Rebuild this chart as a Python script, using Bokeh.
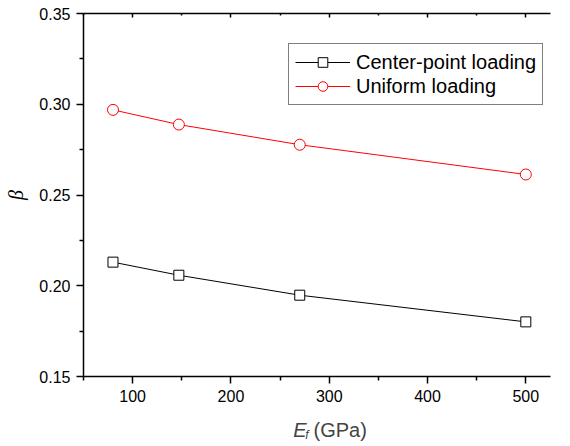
from bokeh.plotting import figure
from bokeh.models import (Range1d, LinearAxis, FixedTicker, Legend, LegendItem,
                          Label, CustomJSTickFormatter)
from bokeh.embed import file_html
from bokeh.resources import INLINE

# data
ef = [80, 147, 270, 500]
beta_center = [0.2130, 0.2058, 0.1948, 0.1801]
beta_uniform = [0.2969, 0.2888, 0.2777, 0.2613]
x_ticks = [100, 200, 300, 400, 500]
x_minor = [50, 150, 250, 350, 450, 550]
y_ticks = [0.15, 0.20, 0.25, 0.30, 0.35]
y_minor = [0.175, 0.225, 0.275, 0.325]

FONT = "Liberation Sans"

p = figure(width=570, height=446, output_backend="svg", toolbar_location=None,
           x_range=Range1d(50, 525.1), y_range=Range1d(0.15, 0.35),
           min_border_left=83, min_border_right=20, min_border_top=13,
           min_border_bottom=70)
p.outline_line_color = None
p.xgrid.visible = False
p.ygrid.visible = False
p.background_fill_color = "white"
p.border_fill_color = "white"

def style_axis(ax):
    ax.axis_line_color = "black"
    ax.axis_line_width = 1.5
    ax.major_tick_line_color = "black"
    ax.minor_tick_line_color = "black"
    ax.major_tick_line_width = 1.5
    ax.minor_tick_line_width = 1.5
    ax.major_tick_in = 0
    ax.major_tick_out = 7
    ax.minor_tick_in = 0
    ax.minor_tick_out = 4
    ax.major_label_text_font = FONT
    ax.major_label_text_font_size = "16px"
    ax.major_label_text_color = "black"
    ax.major_label_standoff = 6

xa = p.xaxis[0]
xa.ticker = FixedTicker(ticks=x_ticks, minor_ticks=x_minor)
style_axis(xa)
ya = p.yaxis[0]
ya.ticker = FixedTicker(ticks=y_ticks, minor_ticks=y_minor)
ya.formatter = CustomJSTickFormatter(code="return tick.toFixed(2);")
style_axis(ya)
ya.axis_label = "β"
ya.axis_label_text_font = "Liberation Serif"
ya.axis_label_text_font_style = "italic"
ya.axis_label_text_font_size = "20px"
ya.axis_label_text_color = "black"
ya.axis_label_standoff = 9

top = LinearAxis(ticker=FixedTicker(ticks=x_ticks, minor_ticks=x_minor))
style_axis(top)
top.major_tick_in = 4
top.major_tick_out = 0
top.minor_tick_in = 2
top.minor_tick_out = 0
top.major_label_text_font_size = "1px"
top.major_label_text_color = None
top.major_label_standoff = 0
p.add_layout(top, "above")

lc = p.line(ef, beta_center, line_color="black", line_width=1)
sc = p.scatter(ef, beta_center, marker="square", size=10, line_color="black",
               fill_color="white", line_width=1)
lu = p.line(ef, beta_uniform, line_color="#ff0000", line_width=1)
su = p.scatter(ef, beta_uniform, marker="circle", size=11, line_color="#ff0000",
               fill_color="white", line_width=1)

legend = Legend(items=[LegendItem(label="Center-point loading", renderers=[lc, sc]),
                       LegendItem(label="Uniform loading", renderers=[lu, su])],
                location=(205, 271), padding=6, spacing=0,
                glyph_width=55, glyph_height=24, label_height=24,
                label_standoff=6, label_text_font=FONT,
                label_text_font_size="20px", label_text_color="black",
                border_line_color="black", border_line_width=1,
                background_fill_color="white", background_fill_alpha=1,
                margin=0)
p.add_layout(legend, "center")

# x-axis title pieces, placed in side panels so that they are not clipped
p.add_layout(Label(x=263.3, y=0.1205, text="E", text_font=FONT,
                   text_font_style="italic", text_font_size="20px",
                   text_baseline="alphabetic", text_align="left"), "right")
p.add_layout(Label(x=275.5, y=0.1178, text="f", text_font=FONT,
                   text_font_style="italic", text_font_size="12px",
                   text_baseline="alphabetic", text_align="left"), "right")
p.add_layout(Label(x=284.0, y=0.1205, text="(GPa)", text_font=FONT,
                   text_font_size="20px",
                   text_baseline="alphabetic", text_align="left"), "below")

open("out.html", "w").write(file_html(p, INLINE))
